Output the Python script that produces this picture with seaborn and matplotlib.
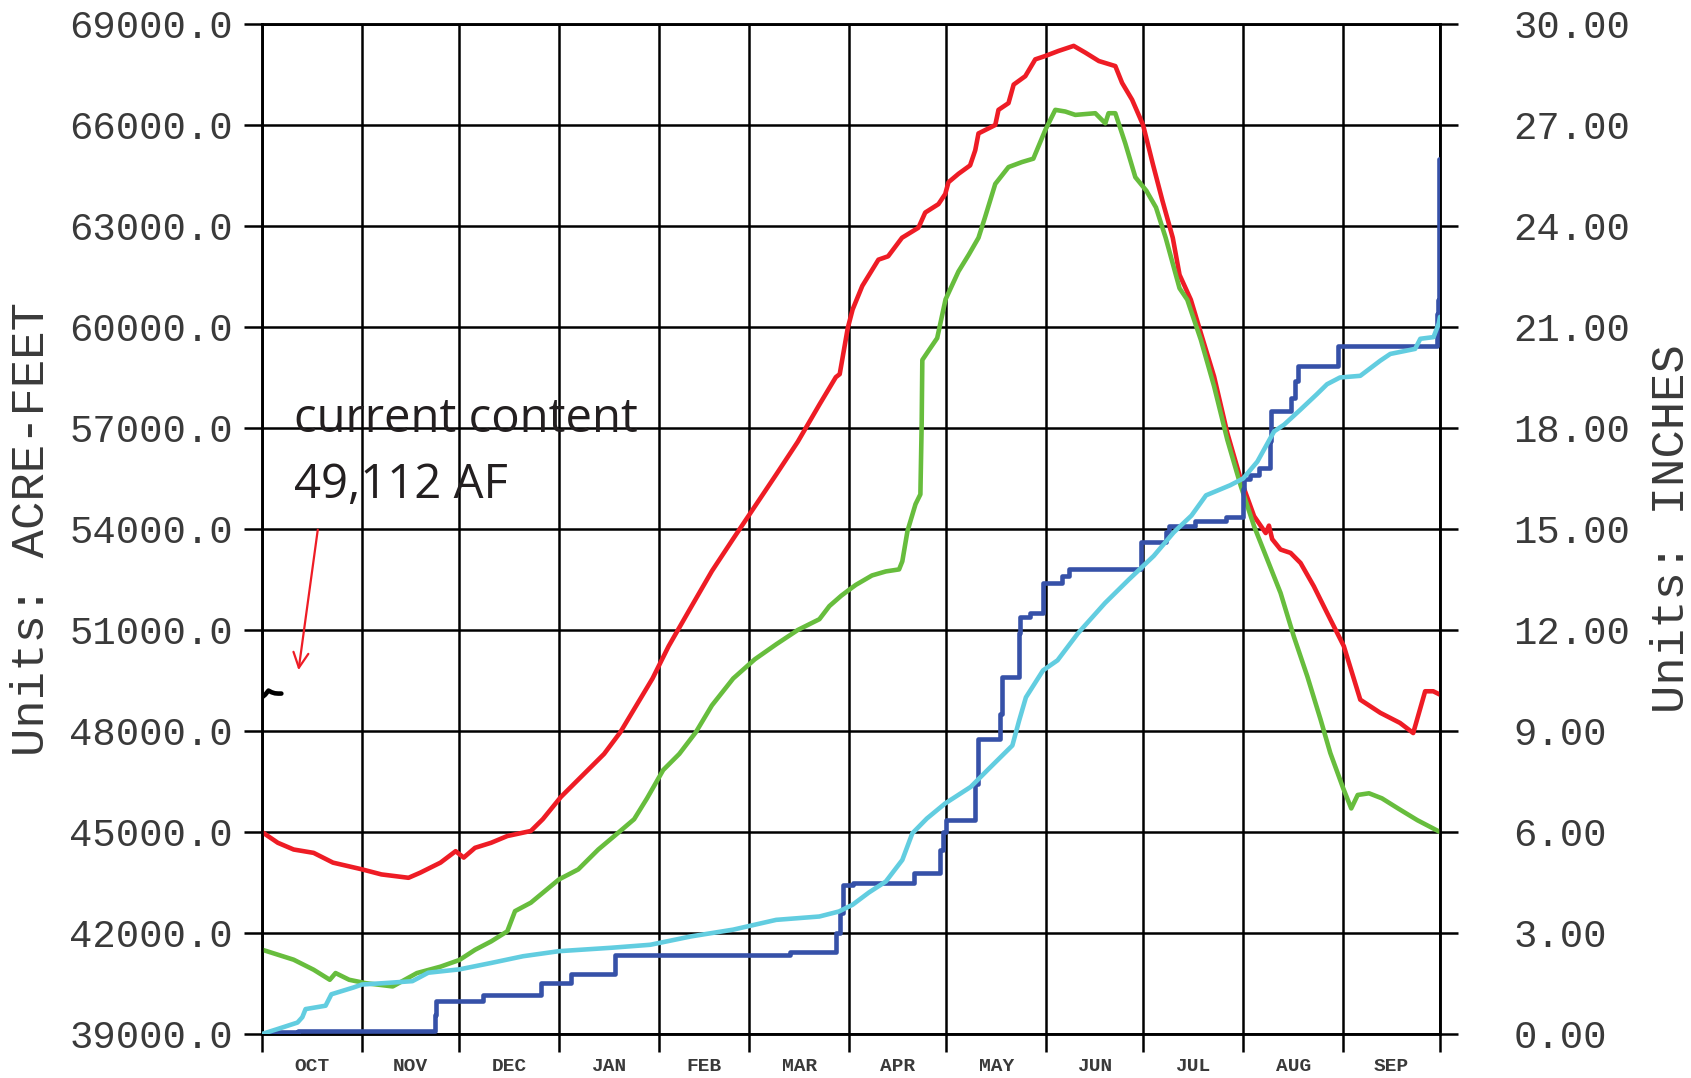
import numpy as np
import seaborn as sns
import matplotlib.pyplot as plt

# water year, day 0 = Oct 1
months = ["OCT", "NOV", "DEC", "JAN", "FEB", "MAR", "APR", "MAY", "JUN", "JUL", "AUG", "SEP"]
month_days = [31, 30, 31, 31, 28, 31, 30, 31, 30, 31, 31, 30]

af_ticks = [39000, 42000, 45000, 48000, 51000, 54000, 57000, 60000, 63000, 66000, 69000]
in_ticks = [0, 3, 6, 9, 12, 15, 18, 21, 24, 27, 30]

# storage (acre-feet)
red_day = [0, 4.9, 9.8, 16, 22, 31, 37, 45.4, 49, 55.3, 60, 62.5, 66, 71, 76, 83.3, 87,
           92.6, 99.3, 106, 111, 116, 121, 126, 132.7, 139.4, 146, 152.7, 159.4, 166,
           172.8, 177.8, 179, 181.5, 183, 186, 191, 194, 198.3, 203.4, 205.5, 209.6,
           211.7, 212.7, 215.8, 219.4, 221, 222, 227.2, 228.2, 231.3, 232.9, 236.5,
           239.6, 242.7, 246.8, 251.5, 255.1, 259.3, 264.4, 266.5, 269.6, 273, 276,
           279, 282.2, 284.3, 287.8, 290.9, 295, 299.1, 303.3, 307.4, 311, 312, 313,
           315.6, 318.7, 321.8, 325.9, 330, 335.2, 340.3, 346.5, 352.6, 356.7, 360.4,
           362.9, 365]
red_af = [45000, 44680, 44480, 44380, 44090, 43890, 43740, 43640, 43790, 44090, 44430,
          44240, 44530, 44680, 44880, 45030, 45380, 46040, 46680, 47320, 47960, 48760,
          49560, 50520, 51640, 52750, 53710, 54670, 55630, 56590, 57710, 58510, 58600,
          59970, 60520, 61220, 62000, 62100, 62650, 62950, 63400, 63650, 63950, 64300,
          64550, 64800, 65250, 65750, 66000, 66450, 66650, 67200, 67450, 67950, 68050,
          68200, 68350, 68150, 67900, 67750, 67250, 66750, 66000, 64850, 63750, 62650,
          61550, 60810, 59820, 58530, 56850, 55460, 54380, 53880, 54100, 53700, 53390,
          53290, 52990, 52300, 51510, 50520, 48930, 48540, 48240, 47940, 49180, 49180,
          49080]

green_day = [0, 4.9, 9.8, 16, 21, 22.8, 27, 32, 40.5, 48, 55.3, 61.2, 66, 71, 76, 78.4,
             83.3, 92, 98, 104.2, 110.4, 115.3, 119.3, 124.3, 129.3, 134.4, 139.4, 146,
             152.7, 159.4, 166, 172.7, 175.8, 179.5, 182, 184, 189, 193.3, 197.4, 198.4,
             200, 202.5, 204, 204.4, 204.6, 206.7, 209.2, 211.8, 215.8, 219, 222, 224,
             227.2, 231.3, 235.5, 239, 242.7, 245.8, 248.9, 252, 258.2, 261.3, 262.3,
             264.4, 267.5, 270.6, 274, 277, 280, 284.3, 286.7, 290.9, 295, 299.1, 303.3,
             307.4, 311.5, 315.6, 319.7, 323.9, 328, 331, 335, 337.5, 339.5, 343, 347,
             352, 358, 365]
green_af = [41505, 41356, 41207, 40909, 40611, 40810, 40611, 40512, 40413, 40810, 41000,
            41200, 41500, 41750, 42050, 42650, 42900, 43590, 43890, 44480, 44980, 45380,
            46000, 46840, 47320, 47960, 48760, 49560, 50130, 50580, 51000, 51320, 51710,
            52020, 52200, 52340, 52620, 52740, 52800, 53040, 53940, 54740, 55030, 57130,
            59020, 59320, 59670, 60820, 61650, 62150, 62650, 63250, 64250, 64750, 64900,
            65000, 65850, 66450, 66400, 66300, 66350, 66050, 66350, 66350, 65450, 64450,
            64050, 63550, 62650, 61150, 60810, 59620, 58240, 56650, 55270, 54080, 53090,
            52100, 50810, 49620, 48340, 47350, 46300, 45700, 46100, 46150, 46000, 45700,
            45350, 45000]

current_day = [0, 1, 2, 3, 4, 5, 6]
current_af = [49000, 49080, 49200, 49150, 49120, 49112, 49112]

# precipitation (inches)
blue_day = [0, 3, 3, 11, 11, 53.5, 53.5, 54, 54, 68.6, 68.6, 86.5, 86.5, 95.7, 95.7,
            109.5, 109.5, 163.6, 163.6, 178, 178, 179, 179, 180, 180, 183, 183, 202,
            202, 210, 210, 211, 211, 212, 212, 221, 221, 222, 222, 228.7, 228.7, 229.2,
            229.2, 234.5, 234.5, 235, 235, 238, 238, 242, 242, 248, 248, 250, 250,
            272.5, 272.5, 280, 280, 281, 281, 289, 289, 298.6, 298.6, 304, 304, 304.3,
            304.3, 306, 306, 309, 309, 312.3, 312.3, 312.6, 312.6, 318.7, 318.7, 320,
            320, 321, 321, 333.5, 333.5, 364.2, 364.2, 364.5, 364.5, 364.8, 364.8, 365]
blue_in = [0, 0, 0.05, 0.05, 0.1, 0.1, 0.55, 0.55, 0.98, 0.98, 1.15, 1.15, 1.52, 1.52,
           1.77, 1.77, 2.36, 2.36, 2.43, 2.43, 3.0, 3.0, 3.6, 3.6, 4.42, 4.42, 4.48, 4.48,
           4.77, 4.77, 5.47, 5.47, 6.0, 6.0, 6.35, 6.35, 7.44, 7.44, 8.77, 8.77, 9.5,
           9.5, 10.6, 10.6, 11.9, 11.9, 12.4, 12.4, 12.5, 12.5, 13.4, 13.4, 13.6, 13.6,
           13.8, 13.8, 14.6, 14.6, 14.9, 14.9, 15.1, 15.1, 15.25, 15.25, 15.35, 15.35,
           16.2, 16.2, 16.5, 16.5, 16.6, 16.6, 16.8, 16.8, 17.6, 17.6, 18.5, 18.5, 18.9,
           18.9, 19.4, 19.4, 19.85, 19.85, 20.45, 20.45, 21.4, 21.4, 21.8, 21.8, 26.0, 26.0]

cyan_day = [0, 4.9, 11, 12.5, 13.5, 19.7, 21.5, 28.3, 31, 39.3, 46.6, 51.5, 61.2, 71,
            80.9, 92, 108, 120.3, 133, 146, 159.3, 172.7, 178.8, 183, 188, 193.3, 198.4,
            201.5, 206, 211.7, 219.6, 224.7, 232.5, 234.6, 236.7, 242, 246.5, 252.8,
            261.2, 268.6, 276.3, 282.5, 288, 292.5, 300, 304, 308.4, 313.6, 316.7, 321.7,
            326.8, 330, 334, 340.3, 346.5, 349.6, 357.3, 358.9, 363, 364.6, 365]
cyan_in = [0, 0.15, 0.34, 0.5, 0.74, 0.84, 1.18, 1.38, 1.47, 1.52, 1.57, 1.82, 1.92,
           2.11, 2.31, 2.46, 2.56, 2.65, 2.9, 3.1, 3.39, 3.49, 3.64, 3.84, 4.2, 4.53,
           5.17, 5.96, 6.4, 6.85, 7.34, 7.83, 8.57, 9.31, 10.0, 10.8, 11.1, 11.9, 12.8,
           13.5, 14.2, 14.9, 15.4, 16.0, 16.3, 16.5, 17.0, 17.9, 18.1, 18.54, 19.0,
           19.3, 19.5, 19.55, 20.0, 20.2, 20.35, 20.65, 20.7, 21.1, 21.3]

RED = "#ee1c25"
GREEN = "#67bd3d"
BLUE = "#3651a8"
CYAN = "#62cde0"
TICK_TXT = "#3a3a3a"

sns.set_theme(style="white")
plt.rcParams["font.family"] = ["Liberation Mono", "DejaVu Sans"]

fig = plt.figure(figsize=(16.91, 10.78), dpi=100)
ax = fig.add_axes([262 / 1691, 1 - 1034 / 1078, 1178 / 1691, 1010 / 1078])
ax2 = ax.twinx()

lw = 3.3
sns.lineplot(x=red_day, y=red_af, ax=ax, color=RED, linewidth=lw,
             estimator=None, sort=False, zorder=4)
sns.lineplot(x=green_day, y=green_af, ax=ax, color=GREEN, linewidth=lw,
             estimator=None, sort=False, zorder=5)
sns.lineplot(x=current_day, y=current_af, ax=ax, color="black", linewidth=lw,
             estimator=None, sort=False, zorder=6)
sns.lineplot(x=blue_day, y=blue_in, ax=ax2, color=BLUE, linewidth=lw,
             estimator=None, sort=False, zorder=4)
sns.lineplot(x=cyan_day, y=cyan_in, ax=ax2, color=CYAN, linewidth=lw,
             estimator=None, sort=False, zorder=5)

# axes, grid
edges = np.concatenate([[0], np.cumsum(month_days)])
mids = (edges[:-1] + edges[1:]) / 2
ax.set_xlim(0, 365)
ax.set_ylim(39000, 69000)
ax2.set_ylim(0, 30)

ax.set_xticks(edges)
ax.set_xticklabels([])
ax.set_xticks(mids, minor=True)
ax.set_xticklabels(months, minor=True, fontsize=14, fontweight="bold", color=TICK_TXT)
ax.set_yticks(af_ticks)
ax.set_yticklabels([f"{v:.1f}" for v in af_ticks], fontsize=28, color=TICK_TXT)
ax2.set_yticks(in_ticks)
ax2.set_yticklabels([f"{v:.2f}" for v in in_ticks], fontsize=28, color=TICK_TXT)

ax.grid(True, which="major", color="black", linewidth=1.8)
ax.tick_params(axis="y", which="major", direction="out", length=13, width=1.8,
               color="black", pad=8, left=True)
ax.tick_params(axis="x", which="major", direction="out", length=13, width=1.8,
               color="black", bottom=True)
ax.tick_params(axis="x", which="minor", length=0, pad=17, bottom=True)
ax2.tick_params(axis="y", which="major", direction="out", length=13, width=1.8,
                color="black", pad=40, right=True)
for a in (ax, ax2):
    for s in a.spines.values():
        s.set_color("black")
        s.set_linewidth(1.8)
ax.set_axisbelow(True)
ax.set_xlabel("")

ax.set_ylabel("Units: ACRE-FEET", fontsize=34, color=TICK_TXT, va="center")
ax.yaxis.set_label_coords(-0.1952, 0.5)
ax2.set_ylabel("Units: INCHES", fontsize=34, color=TICK_TXT, va="center", rotation=90)
ax2.yaxis.set_label_coords(1.197, 0.5)

# annotation
note = dict(fontsize=34, color="#231f20", family=["Open Sans", "DejaVu Sans"], zorder=7)
ax.text(9.9, 56890, "current content", va="baseline", ha="left", **note)
ax.text(9.9, 54920, "49,112 AF", va="baseline", ha="left", **note)
ax.annotate("", xy=(11.2, 49725), xytext=(17.4, 54060),
            arrowprops=dict(arrowstyle="->,head_length=0.9,head_width=0.45",
                            color=RED, lw=1.6))

fig.savefig("out.png", dpi=100)
